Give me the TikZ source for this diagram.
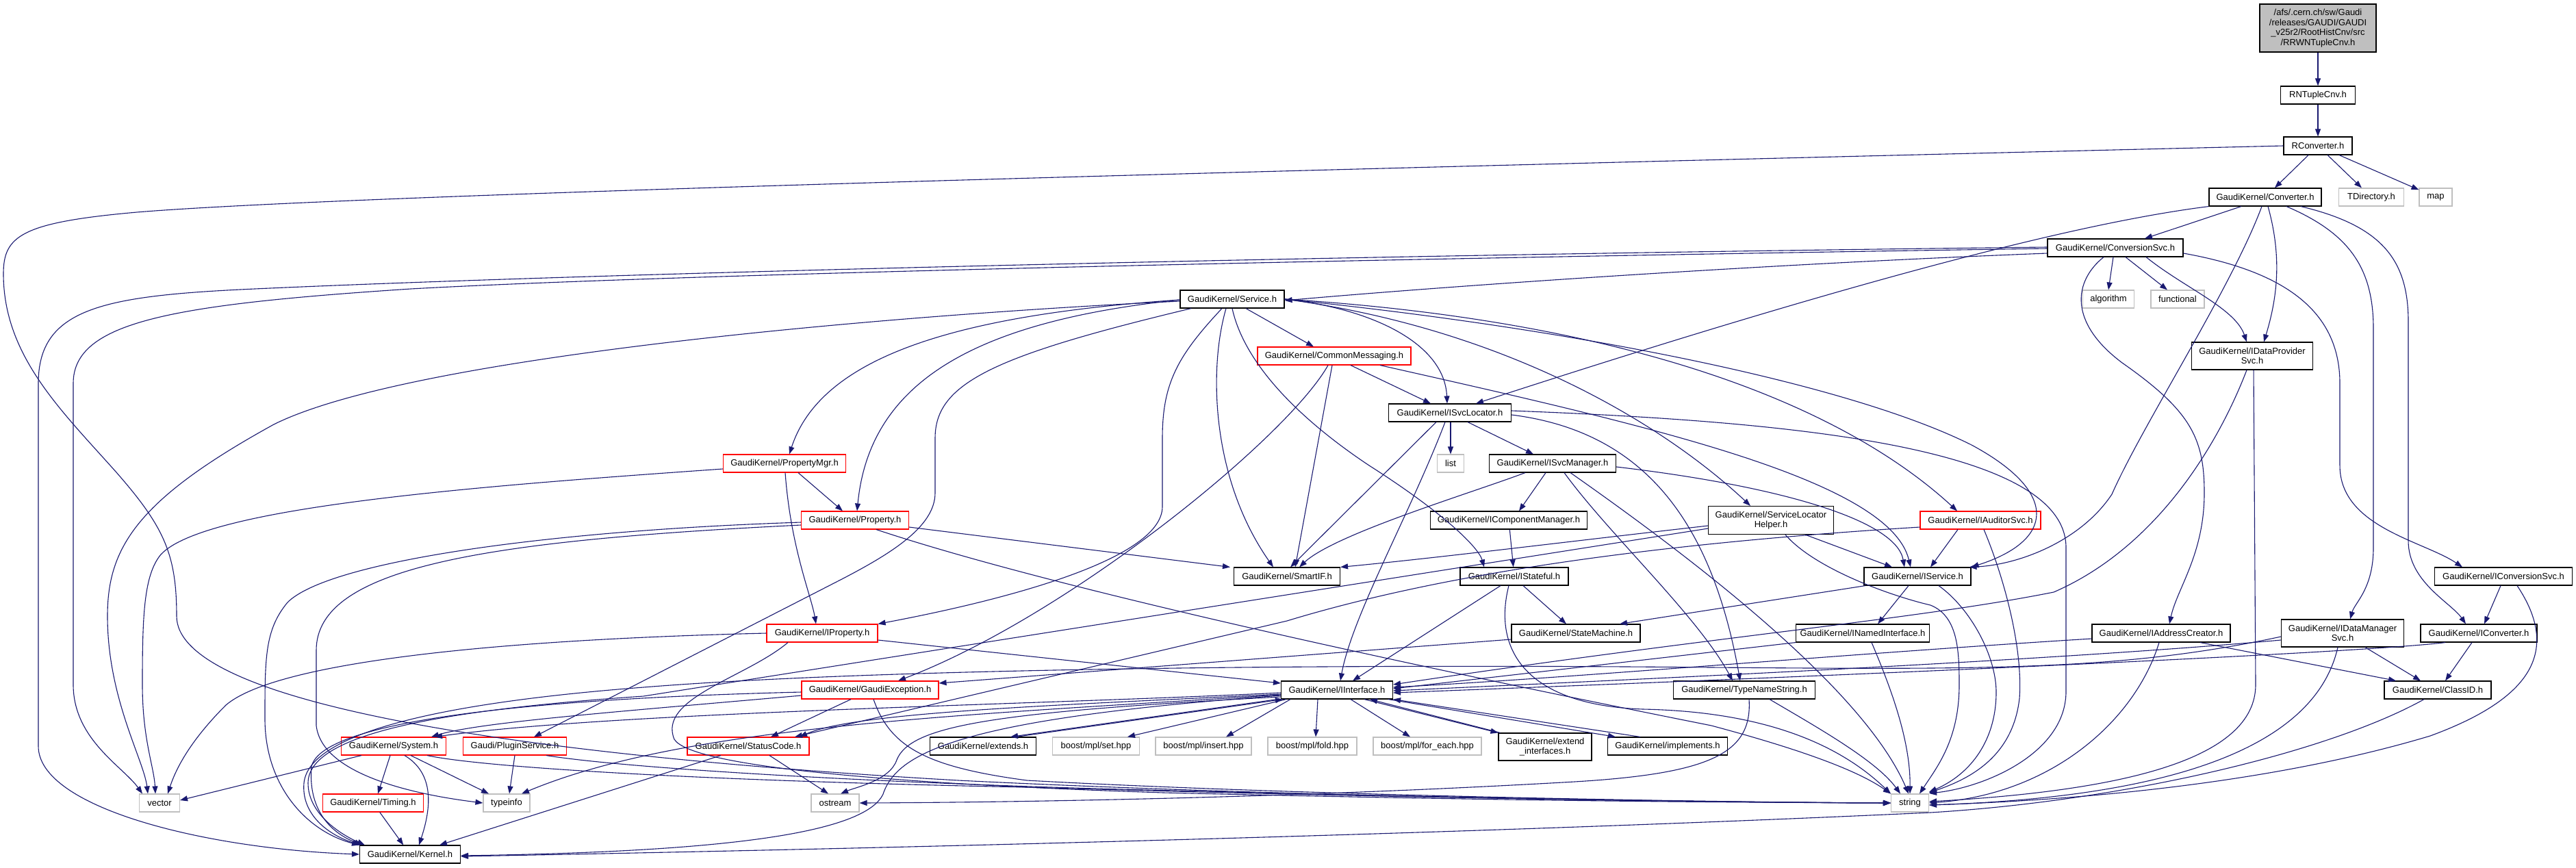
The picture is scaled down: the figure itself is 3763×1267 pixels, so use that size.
\documentclass[tikz,border=0pt]{standalone}
\usepackage{fontspec}
\setmainfont{Liberation Sans}
\usetikzlibrary{arrows.meta}
\definecolor{edgec}{HTML}{191970}
\definecolor{sysgray}{HTML}{BFBFBF}
\begin{document}
\begin{tikzpicture}[x=1pt,y=-1pt,
  every node/.style={font=\fontsize{13}{14.5}\selectfont},
  bx/.style={draw=black, fill=white, line width=1.1pt, inner xsep=2pt, inner ysep=1pt, minimum height=26pt, align=center},
  rbx/.style={bx, draw=red},
  gbx/.style={bx, draw=sysgray},
  e/.style={draw=edgec, line width=1.1pt, -{Triangle[length=11pt,width=8pt]}}]
\useasboundingbox[fill=white] (0,0) rectangle (3763,1267);
% nodes
\node[bx, fill=sysgray, minimum width=170pt, minimum height=70pt] (root) at (3386,41) {/afs/.cern.ch/sw/Gaudi\\/releases/GAUDI/GAUDI\\\_v25r2/RootHistCnv/src\\/RRWNTupleCnv.h};
\node[bx, minimum width=109pt] (RNT) at (3386,139) {RNTupleCnv.h};
\node[bx, minimum width=100pt] (RConv) at (3386,213) {RConverter.h};
\node[bx, minimum width=164pt] (Conv) at (3309,288) {GaudiKernel/Converter.h};
\node[gbx, minimum width=95pt] (TDir) at (3464,288) {TDirectory.h};
\node[gbx, minimum width=48pt] (map) at (3558,288) {map};
\node[bx, minimum width=198pt] (ConvSvc) at (3090,362) {GaudiKernel/ConversionSvc.h};
\node[bx, minimum width=152pt] (Service) at (1800,437) {GaudiKernel/Service.h};
\node[gbx, minimum width=75pt] (algorithm) at (3080,437) {algorithm};
\node[gbx, minimum width=78pt] (functional) at (3181,437) {functional};
\node[rbx, minimum width=224pt] (CommonMsg) at (1949,520) {GaudiKernel/CommonMessaging.h};
\node[bx, minimum width=177pt, minimum height=40pt] (IDataProv) at (3290,520) {GaudiKernel/IDataProvider\\Svc.h};
\node[bx, minimum width=179pt] (ISvcLoc) at (2118,603) {GaudiKernel/ISvcLocator.h};
\node[rbx, minimum width=179pt] (PropertyMgr) at (1146,677) {GaudiKernel/PropertyMgr.h};
\node[gbx, minimum width=39pt] (list) at (2119,677) {list};
\node[bx, minimum width=185pt] (ISvcMgr) at (2268,677) {GaudiKernel/ISvcManager.h};
\node[rbx, minimum width=157pt] (Property) at (1249,760) {GaudiKernel/Property.h};
\node[bx, minimum width=229pt] (ICompMgr) at (2204,760) {GaudiKernel/IComponentManager.h};
\node[bx, minimum width=183pt, minimum height=41pt] (SLHelper) at (2587,760) {GaudiKernel/ServiceLocator\\Helper.h};
\node[rbx, minimum width=176pt] (IAuditorSvc) at (2893,760) {GaudiKernel/IAuditorSvc.h};
\node[bx, minimum width=155pt] (SmartIF) at (1880,842) {GaudiKernel/SmartIF.h};
\node[bx, minimum width=158pt] (IStateful) at (2212,842) {GaudiKernel/IStateful.h};
\node[bx, minimum width=156pt] (IService) at (2801,842) {GaudiKernel/IService.h};
\node[bx, minimum width=201pt] (IConvSvc) at (3657,842) {GaudiKernel/IConversionSvc.h};
\node[rbx, minimum width=162pt] (IProperty) at (1201,925) {GaudiKernel/IProperty.h};
\node[bx, minimum width=188pt] (StateMachine) at (2302,925) {GaudiKernel/StateMachine.h};
\node[bx, minimum width=195pt] (INamedIf) at (2721,925) {GaudiKernel/INamedInterface.h};
\node[bx, minimum width=202pt] (IAddrCreator) at (3157,925) {GaudiKernel/IAddressCreator.h};
\node[bx, minimum width=179pt, minimum height=40pt] (IDataMgr) at (3422,925) {GaudiKernel/IDataManager\\Svc.h};
\node[bx, minimum width=170pt] (IConverter) at (3621,925) {GaudiKernel/IConverter.h};
\node[rbx, minimum width=200pt] (GaudiExc) at (1271,1008) {GaudiKernel/GaudiException.h};
\node[bx, minimum width=163pt] (IInterface) at (1953,1008) {GaudiKernel/IInterface.h};
\node[bx, minimum width=207pt] (TypeName) at (2548,1008) {GaudiKernel/TypeNameString.h};
\node[bx, minimum width=156pt] (ClassID) at (3561,1008) {GaudiKernel/ClassID.h};
\node[rbx, minimum width=153pt] (System) at (575,1090) {GaudiKernel/System.h};
\node[rbx, minimum width=151pt] (PluginSvc) at (752,1090) {Gaudi/PluginService.h};
\node[rbx, minimum width=178pt] (StatusCode) at (1093,1090) {GaudiKernel/StatusCode.h};
\node[bx, minimum width=155pt] (extends) at (1436,1090) {GaudiKernel/extends.h};
\node[gbx, minimum width=127pt] (mplset) at (1601,1090) {boost/mpl/set.hpp};
\node[gbx, minimum width=140pt] (mplinsert) at (1758,1090) {boost/mpl/insert.hpp};
\node[gbx, minimum width=130pt] (mplfold) at (1917,1090) {boost/mpl/fold.hpp};
\node[gbx, minimum width=158pt] (mplforeach) at (2085,1090) {boost/mpl/for\_each.hpp};
\node[bx, minimum width=136pt, minimum height=40pt] (extendIf) at (2257,1091) {GaudiKernel/extend\\\_interfaces.h};
\node[bx, minimum width=175pt] (implements) at (2436,1090) {GaudiKernel/implements.h};
\node[gbx, minimum width=59pt] (vector) at (233,1173) {vector};
\node[rbx, minimum width=147pt] (Timing) at (545,1173) {GaudiKernel/Timing.h};
\node[gbx, minimum width=68pt] (typeinfo) at (740,1173) {typeinfo};
\node[gbx, minimum width=70pt] (ostream) at (1220,1173) {ostream};
\node[gbx, minimum width=55pt] (string) at (2790,1173) {string};
\node[bx, minimum width=147pt] (Kernel) at (599,1248) {GaudiKernel/Kernel.h};
% edges
\draw[e] (root) -- (RNT);
\draw[e] (RNT) -- (RConv);
\draw[e] (RConv) -- (Conv);
\draw[e] (RConv) -- (TDir);
\draw[e] (RConv) -- (map);
\draw[e] (RConv.west) .. controls (1800,250) and (500,285) .. (200,310) .. controls (30,325) and (5,345) .. (5,400) .. controls (5,520) and (90,600) .. (170,690) .. controls (240,770) and (258,810) .. (258,900) .. controls (258,1020) and (700,1100) .. (1400,1140) .. controls (1900,1165) and (2500,1172) .. (string.west);
% Converter
\draw[e] ([xshift=-35pt]Conv.south) -- ([xshift=43pt]ConvSvc.north);
\draw[e] (Conv.south west) .. controls (3080,320) and (2800,380) .. ([xshift=38pt]ISvcLoc.north);
\draw[e] ([xshift=-5pt]Conv.south) .. controls (3260,420) and (3130,620) .. (3085,722) .. controls (3040,790) and (2950,825) .. ([xshift=-3pt]IService.north east);
\draw[e] ([xshift=4pt]Conv.south) .. controls (3335,380) and (3325,440) .. ([xshift=17pt]IDataProv.north);
\draw[e] ([xshift=31pt]Conv.south) .. controls (3430,340) and (3467,390) .. (3467,480) -- (3467,800) .. controls (3467,860) and (3440,880) .. ([xshift=11pt]IDataMgr.north);
\draw[e] ([xshift=52pt]Conv.south) .. controls (3480,330) and (3518,380) .. (3518,470) -- (3518,790) .. controls (3518,850) and (3580,880) .. ([xshift=-19pt]IConverter.north);
% ConversionSvc
\draw[e] ([yshift=-8pt]ConvSvc.west) .. controls (2600,385) and (2150,415) .. ([yshift=-2pt]Service.east);
\draw[e] ([yshift=1pt]ConvSvc.west) .. controls (2000,372) and (900,398) .. (372,422) .. controls (150,432) and (56,450) .. (56,560) -- (56,1090) .. controls (56,1180) and (300,1240) .. (Kernel.west);
\draw[e] ([yshift=-1pt]ConvSvc.west) .. controls (2000,378) and (1000,400) .. (600,422) .. controls (250,445) and (107,470) .. (107,560) -- (107,1000) .. controls (107,1080) and (180,1120) .. ([xshift=-25pt]vector.north);
\draw[e] ([xshift=-3pt]ConvSvc.south) -- (algorithm.north);
\draw[e] ([xshift=15pt]ConvSvc.south) -- ([xshift=-15pt]functional.north);
\draw[e] ([xshift=45pt]ConvSvc.south) .. controls (3190,420) and (3265,450) .. ([xshift=-8pt]IDataProv.north);
\draw[e] ([yshift=-8pt]ConvSvc.east) .. controls (3330,395) and (3418,450) .. (3418,560) -- (3418,680) .. controls (3418,770) and (3540,790) .. ([xshift=-60pt]IConvSvc.north);
\draw[e] ([xshift=-17pt]ConvSvc.south) .. controls (3030,410) and (3020,470) .. (3100,530) .. controls (3200,600) and (3220,640) .. (3220,720) .. controls (3220,810) and (3180,860) .. ([xshift=12pt]IAddrCreator.north);
% Service
\draw[e] ([yshift=-3pt]Service.west) .. controls (1300,460) and (600,520) .. (400,620) .. controls (200,730) and (157,800) .. (157,900) .. controls (157,1020) and (210,1110) .. ([xshift=-17pt]vector.north);
\draw[e] ([yshift=-1pt]Service.west) .. controls (1400,460) and (1200,520) .. ([xshift=7pt]PropertyMgr.north);
\draw[e] ([yshift=-1pt]Service.west) .. controls (1420,470) and (1270,560) .. ([xshift=3pt]Property.north);
\draw[e] ([xshift=-60pt]Service.south) .. controls (1450,520) and (1366,560) .. (1366,640) -- (1366,720) .. controls (1366,770) and (1300,810) .. (1222,850) -- ([xshift=28pt]PluginSvc.north);
\draw[e] ([xshift=-15pt]Service.south) .. controls (1720,520) and (1698,560) .. (1698,640) -- (1698,740) .. controls (1698,820) and (1450,880) .. (IProperty.north east);
\draw[e] ([xshift=-9pt]Service.south) .. controls (1765,540) and (1770,700) .. ([xshift=-20pt]SmartIF.north);
\draw[e] (Service.south) .. controls (1815,520) and (1880,600) .. (2000,680) .. controls (2110,750) and (2160,800) .. ([xshift=-44pt]IStateful.north);
\draw[e] ([xshift=20pt]Service.south) -- ([xshift=-30pt]CommonMsg.north);
\draw[e] (Service.east) .. controls (2000,450) and (2110,500) .. ([xshift=-4pt]ISvcLoc.north);
\draw[e] (Service.east) .. controls (2200,480) and (2430,620) .. ([xshift=-30pt]SLHelper.north);
\draw[e] (Service.east) .. controls (2300,480) and (2700,560) .. (2880,650) .. controls (3010,720) and (3000,790) .. (IService.north east);
\draw[e] (Service.east) .. controls (2400,470) and (2700,600) .. ([xshift=-34pt]IAuditorSvc.north);
% CommonMessaging
\draw[e] ([xshift=24pt]CommonMsg.south) -- ([xshift=-28pt]ISvcLoc.north);
\draw[e] ([xshift=-3pt]CommonMsg.south) -- ([xshift=12pt]SmartIF.north);
\draw[e] ([xshift=-9pt]CommonMsg.south) .. controls (1880,640) and (1560,900) .. ([xshift=41pt]GaudiExc.north);
\draw[e] ([xshift=67pt]CommonMsg.south) .. controls (2400,620) and (2760,700) .. ([xshift=-10pt]IService.north);
% ISvcLocator
\draw[e] ([xshift=-20pt]ISvcLoc.south) -- ([xshift=5pt]SmartIF.north);
\draw[e] ([xshift=-7pt]ISvcLoc.south) .. controls (2060,750) and (1975,900) .. ([xshift=5pt]IInterface.north);
\draw[e] ([xshift=1pt]ISvcLoc.south) -- (list.north);
\draw[e] ([xshift=26pt]ISvcLoc.south) -- ([xshift=-28pt]ISvcMgr.north);
\draw[e] ([yshift=3pt]ISvcLoc.east) .. controls (2600,615) and (3018,650) .. (3018,800) -- (3018,1010) .. controls (3018,1100) and (2900,1150) .. ([yshift=14pt]string.east);
\draw[e] ([yshift=-3pt]ISvcLoc.east) .. controls (2400,630) and (2500,760) .. ([xshift=-6pt]TypeName.north);
% ISvcManager
\draw[e] ([xshift=-40pt]ISvcMgr.south) .. controls (2150,720) and (1950,780) .. ([xshift=18pt]SmartIF.north);
\draw[e] ([xshift=-10pt]ISvcMgr.south) -- ([xshift=15pt]ICompMgr.north);
\draw[e] ([xshift=17pt]ISvcMgr.south) .. controls (2350,780) and (2480,900) .. ([xshift=-17pt]TypeName.north);
\draw[e] ([xshift=26pt]ISvcMgr.south) .. controls (2450,800) and (2720,1000) .. ([xshift=-2pt]string.north);
\draw[e] ([yshift=-5pt]ISvcMgr.east) .. controls (2600,710) and (2770,760) .. ([xshift=-19pt]IService.north);
\draw[e] (ICompMgr) -- (IStateful);
% ServiceLocatorHelper
\draw[e] ([yshift=-8pt]SLHelper.west) .. controls (2300,790) and (2100,815) .. (SmartIF.north east);
\draw[e] ([xshift=50pt]SLHelper.south) -- ([xshift=-37pt]IService.north);
\draw[e] ([xshift=21pt]SLHelper.south) .. controls (2650,830) and (2760,870) .. (2820,884) .. controls (2860,900) and (2862,950) .. (2862,1000) .. controls (2862,1080) and (2830,1120) .. ([xshift=14pt]string.north);
\draw[e] ([yshift=-12pt]SLHelper.west) -- (940,1017) .. controls (600,1040) and (450,1080) .. (450,1144) .. controls (450,1190) and (500,1220) .. ([xshift=8pt]Kernel.north west);
% IAuditorSvc
\draw[e] ([xshift=-33pt]IAuditorSvc.south) -- ([xshift=19pt]IService.north);
\draw[e] ([xshift=5pt]IAuditorSvc.south) .. controls (2930,850) and (2955,950) .. (2950,1020) .. controls (2940,1110) and (2870,1140) .. ([yshift=15pt]string.east);
\draw[e] ([yshift=-10pt]IAuditorSvc.west) .. controls (2400,795) and (2100,840) .. (1880,907) -- ([xshift=68pt]StatusCode.north);
% IStateful
\draw[e] ([xshift=-20pt]IStateful.south) -- ([xshift=23pt]IInterface.north);
\draw[e] ([xshift=13pt]IStateful.south) -- ([xshift=-14pt]StateMachine.north);
\draw[e] ([xshift=-8pt]IStateful.south) .. controls (2180,950) and (2230,1030) .. (2400,1036) .. controls (2600,1040) and (2700,1100) .. (string.north west);
% Property
\draw[e] ([yshift=-10pt]Property.east) -- ([xshift=-5pt]SmartIF.north west);
\draw[e] ([xshift=31pt]Property.south) .. controls (1600,880) and (2300,1020) .. (2500,1060) .. controls (2650,1100) and (2720,1130) .. (string.north west);
\draw[e] ([yshift=-3pt]Property.west) .. controls (800,775) and (480,820) .. (420,880) .. controls (387,920) and (387,960) .. (387,1050) .. controls (387,1150) and (450,1215) .. (Kernel.north west);
\draw[e] ([yshift=-7pt]Property.west) .. controls (700,790) and (462,830) .. (462,950) -- (462,1060) .. controls (470,1130) and (600,1160) .. (typeinfo.west);
% PropertyMgr
\draw[e] ([yshift=-8pt]PropertyMgr.west) .. controls (700,710) and (300,740) .. (235,810) .. controls (210,840) and (208,900) .. (208,1000) .. controls (208,1080) and (225,1120) .. ([xshift=-6pt]vector.north);
\draw[e] ([xshift=20pt]PropertyMgr.south) -- ([xshift=-18pt]Property.north);
\draw[e] ([xshift=1pt]PropertyMgr.south) .. controls (1155,800) and (1185,870) .. ([xshift=-9pt]IProperty.north);
% IProperty
\draw[e] (IProperty.west) .. controls (700,935) and (400,970) .. (330,1030) .. controls (280,1080) and (258,1120) .. ([xshift=12pt]vector.north);
\draw[e] ([yshift=-10pt]IProperty.east) -- ([yshift=10pt]IInterface.west);
\draw[e] ([xshift=-50pt]IProperty.south) .. controls (1090,990) and (960,1020) .. (985,1080) .. controls (1010,1120) and (1300,1145) .. (1700,1158) .. controls (2200,1170) and (2500,1172) .. (string.west);
% GaudiException
\draw[e] ([yshift=-3pt]GaudiExc.west) .. controls (800,1020) and (470,1050) .. (455,1120) .. controls (450,1180) and (480,1215) .. ([xshift=4pt]Kernel.north west);
\draw[e] ([yshift=-8pt]GaudiExc.west) .. controls (900,1040) and (700,1055) .. ([xshift=55pt]System.north);
\draw[e] ([xshift=-28pt]GaudiExc.south) -- ([xshift=33pt]StatusCode.north);
\draw[e] ([xshift=5pt]GaudiExc.south) .. controls (1300,1090) and (1350,1120) .. (1500,1140) .. controls (1900,1162) and (2500,1172) .. (string.west);
\draw[e] ([yshift=-9pt]StateMachine.west) -- ([yshift=10pt]GaudiExc.east);
% StatusCode
\draw[e] ([xshift=-40pt]StatusCode.south) -- ([xshift=43pt]Kernel.north);
\draw[e] ([xshift=31pt]StatusCode.south) -- ([xshift=-10pt]ostream.north);
% IInterface
\draw[e] ([yshift=-8pt]IInterface.west) .. controls (1400,1050) and (1310,1100) .. (1290,1160) .. controls (1260,1225) and (1000,1245) .. ([yshift=-2pt]Kernel.east);
\draw[e] ([yshift=-4pt]IInterface.west) .. controls (1500,1030) and (900,1040) .. ([xshift=60pt]System.north);
\draw[e] ([yshift=-6pt]IInterface.west) .. controls (1550,1030) and (1250,1040) .. ([xshift=75pt]StatusCode.north);
\draw[e] ([yshift=-10pt]IInterface.west) .. controls (1450,1040) and (1330,1060) .. (1310,1110) .. controls (1300,1140) and (1250,1150) .. ([xshift=8pt]ostream.north);
\draw[e] ([yshift=-7pt]IInterface.west) .. controls (1400,1045) and (1000,1060) .. ([xshift=22pt]typeinfo.north);
\draw[e] ([xshift=-5pt]IInterface.south west) -- ([xshift=40pt]extends.north);
\draw[e] ([xshift=48pt]extends.north) -- ([xshift=3pt]IInterface.south west);
\draw[e] ([xshift=8pt]IInterface.south west) -- ([xshift=46pt]mplset.north);
\draw[e] ([xshift=14pt]IInterface.south west) -- ([xshift=33pt]mplinsert.north);
\draw[e] ([xshift=-28pt]IInterface.south) -- ([xshift=5pt]mplfold.north);
\draw[e] ([xshift=20pt]IInterface.south) -- ([xshift=-25pt]mplforeach.north);
\draw[e] ([xshift=40pt]IInterface.south) -- (extendIf.north west);
\draw[e] ([xshift=3pt]extendIf.north west) -- ([xshift=48pt]IInterface.south);
\draw[e] ([xshift=75pt]IInterface.south) -- ([xshift=-76pt]implements.north);
\draw[e] ([xshift=-40pt]implements.north) -- (IInterface.south east);
% System etc
\draw[e] ([xshift=-47pt]System.south) -- ([yshift=4pt]vector.east);
\draw[e] ([xshift=-5pt]System.south) -- ([xshift=7pt]Timing.north);
\draw[e] ([xshift=16pt]System.south) .. controls (635,1130) and (630,1180) .. ([xshift=13pt]Kernel.north);
\draw[e] ([xshift=25pt]System.south) -- ([xshift=-26pt]typeinfo.north);
\draw[e] ([xshift=49pt]System.south) .. controls (700,1120) and (1000,1140) .. (1500,1150) .. controls (2000,1165) and (2500,1172) .. (string.west);
\draw[e] (PluginSvc.south) -- ([xshift=4pt]typeinfo.north);
\draw[e] ([xshift=46pt]PluginSvc.south) .. controls (900,1120) and (1200,1140) .. (1600,1152) .. controls (2100,1165) and (2500,1172) .. (string.west);
\draw[e] (Timing) -- (Kernel);
% IService
\draw[e] ([xshift=-76pt]IService.south) -- ([xshift=64pt]StateMachine.north);
\draw[e] ([xshift=-13pt]IService.south) -- ([xshift=22pt]INamedIf.north);
\draw[e] ([xshift=31pt]IService.south) .. controls (2880,890) and (2916,960) .. (2916,1011) .. controls (2916,1080) and (2880,1130) .. ([yshift=16pt]string.east);
% INamedInterface, TypeNameString
\draw[e] (INamedIf.south west) -- ([yshift=2pt]IInterface.east);
\draw[e] ([xshift=13pt]INamedIf.south) .. controls (2760,1000) and (2791,1080) .. (string.north);
\draw[e] ([xshift=37pt]TypeName.south) .. controls (2650,1060) and (2740,1110) .. ([xshift=-14pt]string.north);
\draw[e] ([xshift=7pt]TypeName.south) .. controls (2560,1100) and (2500,1130) .. (2300,1142) .. controls (1900,1165) and (1500,1172) .. (ostream.east);
% right side interfaces
\draw[e] ([xshift=-8pt]IDataProv.south) .. controls (3240,650) and (3150,800) .. (3000,865) .. controls (2800,905) and (2500,930) .. ([yshift=8pt]IInterface.east);
\draw[e] ([xshift=2pt]IDataProv.south) -- (3295,1000) .. controls (3295,1110) and (3100,1155) .. ([yshift=2pt]string.east);
\draw[e] ([yshift=-8pt]IAddrCreator.west) .. controls (2700,955) and (2300,990) .. ([yshift=4pt]IInterface.east);
\draw[e] ([xshift=57pt]IAddrCreator.south) -- ([xshift=-61pt]ClassID.north);
\draw[e] ([xshift=-3pt]IAddrCreator.south) .. controls (3120,1050) and (3000,1160) .. (string.east);
\draw[e] ([yshift=-10pt]IDataMgr.west) .. controls (3000,965) and (2400,992) .. ([yshift=-1pt]IInterface.east);
\draw[e] ([yshift=-5pt]IDataMgr.west) .. controls (3100,980) and (2900,978) .. (2500,975) .. controls (2000,970) and (1300,975) .. (940,1004) .. controls (600,1030) and (450,1080) .. (444,1144) .. controls (440,1190) and (480,1220) .. ([xshift=2pt]Kernel.north west);
\draw[e] ([xshift=33pt]IDataMgr.south) -- ([xshift=-25pt]ClassID.north);
\draw[e] ([xshift=-7pt]IDataMgr.south) .. controls (3380,1100) and (3150,1165) .. ([yshift=-3pt]string.east);
\draw[e] ([xshift=-49pt]IConverter.south) .. controls (3480,950) and (3000,975) .. ([yshift=-4pt]IInterface.east);
\draw[e] ([xshift=-10pt]IConverter.south) -- ([xshift=11pt]ClassID.north);
\draw[e] ([xshift=-4pt]IConvSvc.south) -- ([xshift=8pt]IConverter.north);
\draw[e] ([xshift=20pt]IConvSvc.south) .. controls (3740,950) and (3700,1020) .. (3550,1075) .. controls (3300,1150) and (3000,1170) .. ([yshift=-3pt]string.east);
\draw[e] ([xshift=-20pt]ClassID.south) .. controls (3400,1100) and (3100,1170) .. (2820,1187) .. controls (2000,1225) and (1000,1245) .. ([yshift=-3pt]Kernel.east);
\end{tikzpicture}
\end{document}
